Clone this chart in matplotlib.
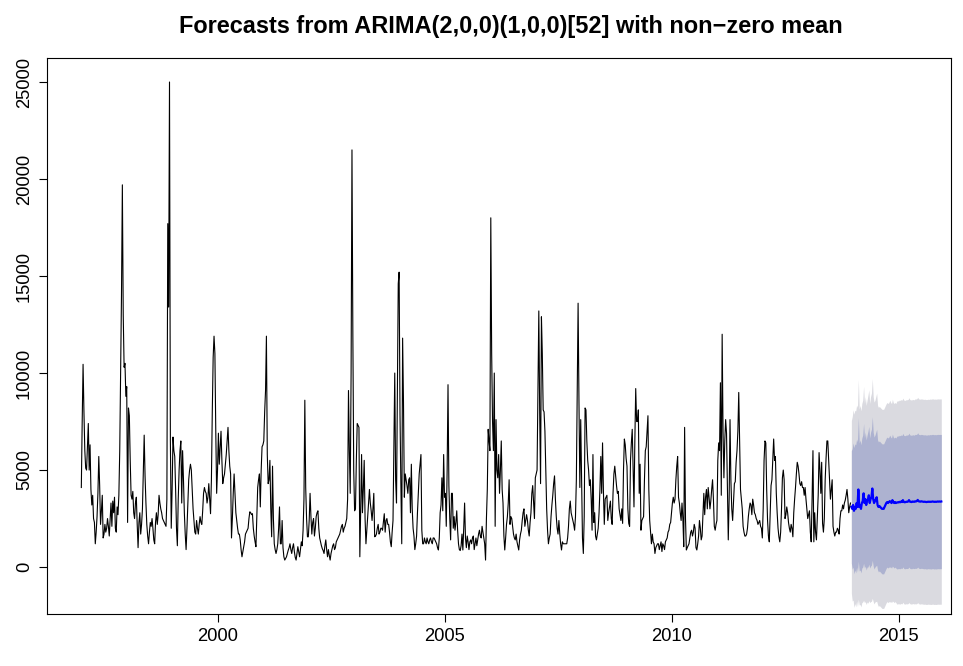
import numpy as np
import matplotlib.pyplot as plt

# weekly counts, one list per year (52 weeks each, 2013 stops after week 50)
y1997 = [4100, 7500, 10450, 8000, 6000, 5100, 5000, 6200, 7400, 5000, 6300, 4000, 3200,
         3700, 2500, 2300, 1200, 1800, 2600, 3800, 5700, 4200, 2200, 2900, 3700, 1500,
         1700, 2200, 1800, 2000, 2500, 2100, 1600, 2400, 3300, 2100, 3400, 2800, 3600,
         2000, 1800, 3100, 2700, 3700, 6000, 10200, 14000, 19700, 13000, 10300, 10500, 8800]
y1998 = [9300, 2300, 8200, 7800, 5500, 3700, 3500, 3900, 2800, 2500, 3300, 3600, 2200,
         1000, 2300, 2800, 1700, 2200, 3000, 4800, 6800, 4700, 3300, 2200, 1600, 1200,
         1800, 2300, 2100, 2500, 2000, 1400, 1200, 2300, 2800, 2200, 2700, 3700, 3300,
         3000, 2800, 2500, 2400, 2300, 2200, 2100, 3500, 17700, 13400, 25000, 6500, 2000]
y1999 = [4000, 6700, 6000, 5700, 4000, 2000, 1100, 3500, 5000, 6000, 6500, 3300, 6000,
         4500, 2800, 1700, 900, 2000, 3300, 4500, 5000, 5300, 5000, 4000, 3000, 2400,
         1800, 1700, 2400, 2000, 1700, 2200, 2600, 2300, 2200, 2900, 3800, 4100, 3900,
         3800, 3300, 3600, 4300, 3500, 2750, 4500, 8000, 10800, 11900, 11000, 7000, 3800]
y2000 = [5000, 6900, 5300, 6200, 7000, 5500, 4300, 4600, 4800, 5300, 5800, 6500, 7200,
         6000, 5200, 4800, 1500, 2500, 3800, 4800, 3800, 2800, 2400, 2000, 1700, 1700,
         1400, 900, 530, 800, 1050, 1300, 1700, 1800, 1900, 2000, 2500, 2850, 2800,
         2700, 2750, 2000, 1600, 1300, 1050, 2600, 4100, 4500, 4800, 3100, 5000, 6200]
y2001 = [6300, 6500, 8000, 9100, 11900, 5800, 4300, 4500, 5500, 3000, 1560, 5200, 2500,
         1200, 900, 700, 900, 1200, 2000, 3100, 1200, 1200, 2400, 1000, 530, 360,
         450, 530, 700, 870, 1000, 1200, 900, 700, 1000, 1200, 800, 500, 360,
         700, 1050, 800, 530, 900, 1300, 1100, 1900, 3500, 8600, 4100, 2500, 1560]
y2002 = [1560, 2400, 3800, 2600, 1700, 2300, 2500, 1600, 2000, 2600, 2800, 2900, 2000,
         1500, 1300, 1100, 950, 850, 700, 1100, 1400, 900, 530, 900, 600, 360,
         700, 900, 1100, 1200, 900, 1000, 1300, 1400, 1500, 1600, 1700, 1900, 2100,
         2200, 1800, 2000, 2100, 2300, 2500, 3500, 9100, 6000, 3800, 10000, 21500, 12000]
y2003 = [5000, 2900, 3000, 5500, 7400, 7300, 7200, 530, 3000, 5800, 2800, 4000, 5500,
         2500, 1200, 1900, 2600, 3300, 4000, 3300, 2900, 2400, 3000, 3800, 1560, 1600,
         1700, 2000, 2200, 1700, 1800, 2000, 2000, 1900, 2300, 2750, 1800, 2400, 2500,
         2200, 2200, 1800, 1300, 1050, 1800, 2400, 6000, 10000, 4500, 3300, 9000, 14600]
y2004 = [15200, 7900, 4300, 1200, 11800, 8500, 3600, 4800, 4500, 4200, 3800, 4500, 4600,
         2800, 5300, 3000, 2000, 1600, 900, 1200, 1600, 2800, 3800, 4800, 5300, 5800,
         1900, 1200, 1200, 1500, 1300, 1200, 1500, 1300, 1200, 1400, 1500, 1300, 1200,
         1500, 1500, 1400, 1300, 1200, 1000, 880, 1500, 2800, 3200, 4600, 2900, 5800]
y2005 = [3600, 3800, 2100, 5000, 9400, 4200, 2500, 1400, 3800, 3800, 2000, 2600, 1900,
         2300, 2900, 1900, 1200, 900, 850, 1100, 1700, 880, 2000, 3300, 1500, 1000,
         1600, 1300, 900, 1300, 1400, 1200, 1500, 1600, 900, 1200, 1500, 1100, 1400,
         1700, 1900, 1600, 1500, 2100, 1800, 1500, 1200, 360, 2500, 4000, 7100, 6500]
y2006 = [6000, 18000, 11000, 7500, 6000, 10000, 2100, 7600, 5000, 4600, 5800, 3800, 5000,
         6500, 4000, 3300, 1600, 880, 1500, 2200, 2600, 3300, 4500, 2200, 2600, 2500,
         2100, 1700, 1500, 1400, 1700, 1300, 1100, 880, 1400, 1700, 1900, 2400, 2800,
         3000, 2100, 2400, 2700, 2400, 1900, 1600, 2300, 2800, 3800, 4200, 3400, 2500]
y2007 = [4600, 4800, 5000, 9000, 13200, 8000, 4300, 12900, 11000, 8100, 8000, 7000, 5000,
         3000, 1900, 1200, 1500, 1700, 2600, 3200, 3700, 4300, 4700, 3500, 2600, 2000,
         1700, 2400, 1700, 1200, 880, 1300, 1200, 1200, 1200, 1200, 1200, 1500, 2100,
         3000, 3400, 2800, 2600, 2400, 2200, 1900, 2600, 4500, 9000, 13600, 8500, 4100]
y2008 = [7600, 4500, 1500, 700, 2600, 8200, 8100, 6500, 5500, 5000, 4200, 4500, 3500,
         1900, 5800, 2300, 2800, 1600, 1400, 1700, 2000, 2800, 4000, 5700, 3800, 6400,
         3900, 2200, 3500, 3600, 3700, 2400, 2800, 3100, 3400, 2500, 2200, 3800, 4800,
         5200, 4700, 4200, 3800, 3900, 3000, 2700, 2400, 3000, 2250, 5000, 6600, 6300]
y2009 = [5600, 5200, 3000, 2250, 2100, 5500, 6400, 7100, 5000, 3100, 6500, 9200, 7500,
         7500, 8100, 3800, 5300, 1900, 2400, 2500, 2600, 4500, 6000, 6200, 7000, 7800,
         4000, 2400, 1800, 1200, 1700, 1300, 1200, 700, 1000, 1100, 1200, 1200, 900,
         1100, 1300, 800, 1200, 1100, 900, 1300, 1400, 1500, 1800, 1900, 2200, 2300]
y2010 = [2800, 3300, 3600, 3300, 3500, 4500, 5200, 5700, 3600, 3300, 2800, 2400, 3300,
         2500, 1050, 7200, 2500, 880, 1000, 1100, 1200, 1500, 1800, 1900, 1600, 1800,
         2200, 2000, 1000, 880, 1200, 1600, 2400, 2000, 1400, 1600, 2700, 3800, 2700,
         3600, 4000, 3000, 4100, 3600, 3000, 3400, 4000, 4500, 3500, 2100, 1900, 2200]
y2011 = [2400, 5500, 6400, 6000, 9500, 3700, 12000, 7000, 4600, 6500, 7600, 6900, 4000,
         1400, 3500, 7600, 4500, 3000, 2400, 3300, 4300, 4400, 5400, 6000, 7000, 9000,
         6500, 4000, 3500, 3000, 2100, 1800, 1600, 1600, 1700, 2000, 2600, 3000, 3300,
         3200, 2700, 3500, 3200, 2800, 2700, 2500, 2400, 2200, 2300, 2400, 2100, 2000]
y2012 = [1500, 3000, 5500, 6500, 6400, 4000, 2400, 1600, 1300, 2800, 4200, 4500, 5500,
         6600, 5500, 5700, 3800, 2800, 2000, 1560, 1300, 1800, 3000, 4600, 5000, 4500,
         2500, 2700, 3100, 2800, 2300, 2000, 1800, 2200, 2000, 1560, 2800, 3500, 4100,
         4800, 5400, 5200, 4800, 4300, 4200, 4400, 4100, 4100, 3700, 4100, 3500, 3000]
y2013 = [2500, 2700, 2900, 1800, 1300, 3500, 6000, 1300, 2800, 1800, 1400, 2500, 3700,
         5900, 5000, 3800, 5400, 2250, 1800, 2500, 4500, 5600, 6500, 6500, 5500, 4600,
         3500, 4000, 4500, 2100, 1800, 1600, 1800, 1800, 2000, 1900, 1700, 2500, 2900,
         2900, 3200, 3000, 3300, 3450, 3700, 4000, 3500, 2800, 3100, 3300]

# point forecast for the next 104 weeks
fc_mean = [3100, 3000, 3200, 2900, 3100, 3000, 3300, 3100, 4000, 3100, 3200, 3000, 3300,
           3400, 3800, 3300, 3500, 3200, 3400, 3500, 3700, 3300, 3500, 3600, 4050, 3500,
           3300, 3400, 3500, 3600, 3200, 3100, 3150, 3100, 3050, 3000, 3000, 3000, 3100,
           3200, 3300, 3350, 3300, 3350, 3400, 3350, 3300, 3450, 3350, 3300, 3350, 3300,
           3320, 3340, 3330, 3360, 3340, 3380, 3350, 3450, 3360, 3340, 3350, 3370, 3360,
           3380, 3450, 3370, 3360, 3350, 3380, 3370, 3360, 3390, 3380, 3400, 3460, 3390,
           3380, 3370, 3390, 3380, 3370, 3360, 3370, 3360, 3350, 3360, 3370, 3360, 3370,
           3360, 3370, 3380, 3370, 3360, 3370, 3360, 3370, 3380, 3370, 3380, 3370, 3380]
# half widths of the 80% and 95% prediction intervals
fc_hw80 = [2900, 3100, 3200, 3250, 3250, 3300, 3300, 3350, 3700, 3300, 3350, 3300, 3350,
           3400, 3600, 3350, 3450, 3350, 3400, 3500, 3550, 3350, 3450, 3500, 3700, 3450,
           3400, 3400, 3450, 3500, 3350, 3350, 3350, 3350, 3350, 3350, 3350, 3350, 3350,
           3350, 3350, 3350, 3350, 3350, 3400, 3350, 3350, 3400, 3350, 3350, 3350, 3350,
           3420, 3420, 3420, 3430, 3430, 3430, 3430, 3440, 3430, 3430, 3430, 3440, 3440,
           3440, 3450, 3440, 3440, 3440, 3440, 3440, 3440, 3450, 3450, 3450, 3460, 3450,
           3450, 3450, 3450, 3450, 3450, 3450, 3450, 3450, 3450, 3450, 3450, 3450, 3460,
           3460, 3460, 3460, 3460, 3460, 3460, 3460, 3460, 3460, 3460, 3460, 3460, 3460]
fc_hw95 = [4450, 4750, 4900, 4980, 4980, 5050, 5050, 5130, 5660, 5050, 5130, 5050, 5130,
           5200, 5510, 5130, 5280, 5130, 5200, 5360, 5430, 5130, 5280, 5360, 5660, 5280,
           5200, 5200, 5280, 5360, 5130, 5130, 5130, 5130, 5130, 5130, 5130, 5130, 5130,
           5130, 5130, 5130, 5130, 5130, 5200, 5130, 5130, 5200, 5130, 5130, 5130, 5130,
           5230, 5230, 5230, 5250, 5250, 5250, 5250, 5260, 5250, 5250, 5250, 5260, 5260,
           5260, 5280, 5260, 5260, 5260, 5260, 5260, 5260, 5280, 5280, 5280, 5290, 5280,
           5280, 5280, 5280, 5280, 5280, 5280, 5280, 5280, 5280, 5280, 5280, 5280, 5290,
           5290, 5290, 5290, 5290, 5290, 5290, 5290, 5290, 5290, 5290, 5290, 5290, 5290]

start_year = 1997
freq = 52
title = "Forecasts from ARIMA(2,0,0)(1,0,0)[52] with non\u2212zero mean"
x_ticks = [2000, 2005, 2010, 2015]
y_ticks = [0, 5000, 10000, 15000, 20000, 25000]


def build_series():
    hist = np.array(y1997 + y1998 + y1999 + y2000 + y2001 + y2002 + y2003 + y2004 +
                    y2005 + y2006 + y2007 + y2008 + y2009 + y2010 + y2011 + y2012 +
                    y2013, dtype=float)
    t_hist = start_year + np.arange(len(hist)) / freq
    mean = np.array(fc_mean, dtype=float)
    t_fc = start_year + (len(hist) + np.arange(len(mean))) / freq
    return t_hist, hist, t_fc, mean


def draw(t_hist, hist, t_fc, mean):
    plt.rcParams['font.family'] = ['Liberation Sans', 'DejaVu Sans']
    fig = plt.figure(figsize=(9.63, 6.66), dpi=100)
    ax = fig.add_axes([47 / 963, 52 / 666, 904 / 963, 556 / 666])

    hw80 = np.array(fc_hw80, dtype=float)
    hw95 = np.array(fc_hw95, dtype=float)
    # prediction intervals: 95% underneath, 80% on top
    ax.fill_between(t_fc, mean - hw95, mean + hw95, color='#dadae0', lw=0)
    ax.fill_between(t_fc, mean - hw80, mean + hw80, color='#adb2d0', lw=0)
    ax.plot(t_fc, mean, color='blue', lw=1.6)
    ax.plot(t_hist, hist, color='black', lw=0.8)

    ax.set_xlim(1996.244, 2016.156)
    ax.set_ylim(-2419, 26237)
    ax.set_xticks(x_ticks)
    ax.set_xticklabels([str(v) for v in x_ticks], fontsize=13.2)
    ax.set_yticks(y_ticks)
    ax.set_yticklabels([str(v) for v in y_ticks], fontsize=13.2,
                       rotation=90, va='center')
    ax.tick_params(direction='out', length=6, width=0.8, pad=4)
    for s in ax.spines.values():
        s.set_linewidth(0.8)

    fig.text(511 / 963, 1 - 26 / 666, title, ha='center', va='center',
             fontsize=16.9, fontweight='bold')
    fig.savefig('out.png', dpi=100)


if __name__ == "__main__":
    draw(*build_series())
